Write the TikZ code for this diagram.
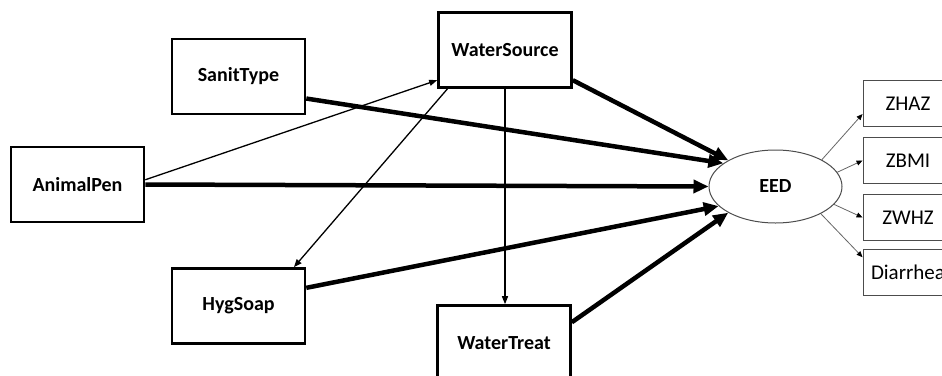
\documentclass[tikz,border=0pt]{standalone}
\usepackage{fontspec}
\setmainfont{Carlito}
\usetikzlibrary{arrows.meta, shapes.geometric}
\begin{document}
\begin{tikzpicture}[x=1pt, y=-1pt,
  var/.style={draw, line width=2.6pt, minimum width=133pt, minimum height=75pt,
    font=\fontsize{20}{24}\selectfont\bfseries},
  outcome/.style={draw=black!70, line width=0.9pt, minimum width=90pt, minimum height=46pt,
    font=\fontsize{21}{25}\selectfont},
  weak/.style={line width=1.3pt, -{Triangle[length=8pt, width=6pt]}},
  strong/.style={line width=4.5pt, -{Triangle[length=15pt, width=13pt]}},
  toout/.style={draw=black!60, line width=0.8pt, -{Triangle[length=6pt, width=5pt, color=black]}}]

\useasboundingbox (0,0) rectangle (942,375);

\node[var] (sanit) at (238.5,76.5) {SanitType};
\node[var] (animal) at (77.5,184.5) {AnimalPen};
\node[var] (hyg) at (238.5,306) {HygSoap};
\node[var] (wsource) at (505,50) {WaterSource};
\node[var] (wtreat) at (504,343) {WaterTreat};
\node[draw=black!70, line width=1pt, ellipse, minimum width=133pt, minimum height=73pt,
  inner sep=0pt, font=\fontsize{20}{24}\selectfont\bfseries] (eed) at (775.5,186.5) {EED};

\node[outcome] (zhaz) at (908,103.5) {ZHAZ};
\node[outcome] (zbmi) at (908,160.5) {ZBMI};
\node[outcome] (zwhz) at (908,217.5) {ZWHZ};
\node[outcome] (diarrhea) at (908,272) {Diarrhea};

% paths among the exposures
\draw[weak] (animal.4) -- (wsource.204);
\draw[weak] (wsource.-146) -- (hyg.35);
\draw[weak] (wsource.south) -- (wsource.south |- wtreat.north);

% paths into EED
\draw[strong] (sanit.-18) -- (eed.156);
\draw[strong] (wsource.-24) -- (eed.151);
\draw[strong] (animal.east) -- (eed.west);
\draw[strong] (hyg.15) -- (eed.-161);
\draw[strong] (wtreat.17) -- (eed.209);

% EED to outcomes
\draw[toout] (eed.30) -- (zhaz.193);
\draw[toout] (eed.13) -- (zbmi.west);
\draw[toout] (eed.-17) -- (zwhz.west);
\draw[toout] (eed.-31) -- (diarrhea.162);

\end{tikzpicture}
\end{document}
